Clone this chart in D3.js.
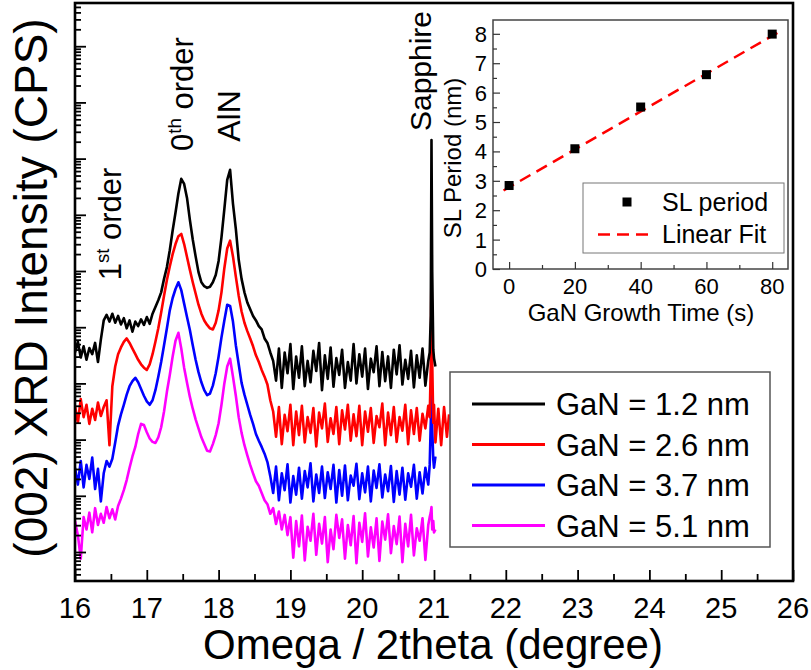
<!DOCTYPE html>
<html><head><meta charset="utf-8">
<script src="https://cdn.jsdelivr.net/npm/d3@7"></script>
<style>
body{margin:0;background:#fff}
svg{display:block}
text{font-family:"Liberation Sans",Arial,Helvetica,sans-serif;fill:#000}
</style>
</head><body>
<svg id="c" width="811" height="670"></svg>
<script>
// ---------- main chart data: Omega/2theta (degree) and log10 intensity (CPS, offset stack) ----------
const twoTheta = [
16.00,16.04,16.08,16.12,16.16,16.20,16.24,16.28,16.32,16.36,
16.40,16.44,16.48,16.52,16.56,16.60,16.64,16.68,16.72,16.76,
16.80,16.84,16.88,16.92,16.96,17.00,17.04,17.08,17.12,17.16,
17.20,17.24,17.28,17.32,17.36,17.40,17.44,17.48,17.52,17.56,
17.60,17.64,17.68,17.72,17.76,17.80,17.84,17.88,17.92,17.96,
18.00,18.04,18.08,18.12,18.16,18.20,18.24,18.28,18.32,18.36,
18.40,18.44,18.48,18.52,18.56,18.60,18.64,18.68,18.72,18.76,
18.80,18.84,18.88,18.92,18.96,19.00,19.04,19.08,19.12,19.16,
19.20,19.24,19.28,19.32,19.36,19.40,19.44,19.48,19.52,19.56,
19.60,19.64,19.68,19.72,19.76,19.80,19.84,19.88,19.92,19.96,
20.00,20.04,20.08,20.12,20.16,20.20,20.24,20.28,20.32,20.36,
20.40,20.44,20.48,20.52,20.56,20.60,20.64,20.68,20.72,20.76,
20.80,20.84,20.88,20.92,
20.94,20.955,20.965,20.975,20.99,21.00,21.02,
21.06,21.10,21.14,21.18,21.21];

const gan12 = [
3.55,3.74,3.46,3.66,3.42,3.63,3.52,3.72,3.38,3.78,
4.12,4.22,4.10,4.24,4.08,4.20,4.05,4.16,3.98,4.12,
3.92,4.10,4.02,4.14,4.04,4.18,4.06,4.24,4.36,4.48,
4.62,4.86,5.07,5.37,5.72,6.04,6.38,6.64,6.55,6.30,
5.91,5.56,5.26,4.98,4.80,4.73,4.70,4.72,4.80,4.93,
5.18,5.60,6.10,6.62,6.80,6.20,5.75,5.20,4.86,4.62,
4.44,4.32,4.20,4.12,4.02,3.96,3.80,3.72,3.55,3.40,
3.05,3.62,2.92,3.55,3.18,3.70,2.90,3.48,3.10,3.66,
2.95,3.40,3.02,3.58,3.22,3.72,2.88,3.50,3.08,3.64,
2.94,3.45,3.15,3.60,2.92,3.38,3.05,3.70,3.00,3.52,
3.12,3.62,2.90,3.44,3.20,3.66,2.95,3.56,3.04,3.48,
2.92,3.60,3.16,3.68,2.98,3.42,3.08,3.58,2.93,3.50,
3.10,3.62,2.96,3.40,
3.55,4.20,7.33,5.00,3.60,3.45,3.30];

const gan26 = [
2.60,2.30,2.72,2.40,2.62,2.28,2.55,2.35,2.66,2.42,
2.58,2.70,1.90,2.95,3.30,3.52,3.64,3.74,3.80,3.72,
3.62,3.52,3.42,3.34,3.28,3.24,3.34,3.52,3.74,3.98,
4.26,4.56,4.84,5.08,5.30,5.48,5.62,5.66,5.48,5.25,
5.02,4.80,4.60,4.40,4.24,4.12,4.04,3.98,3.96,4.08,
4.30,4.62,5.05,5.40,5.54,5.26,4.90,4.56,4.28,4.08,
3.93,3.80,3.66,3.50,3.38,3.24,3.12,2.98,2.70,2.50,
2.05,2.58,1.92,2.44,2.15,2.62,1.90,2.50,2.08,2.60,
1.95,2.40,2.12,2.56,1.88,2.48,2.20,2.64,1.96,2.38,
2.10,2.58,1.92,2.52,2.18,2.62,1.98,2.45,2.06,2.60,
1.90,2.50,2.14,2.56,1.94,2.42,2.22,2.64,1.90,2.48,
2.08,2.58,1.96,2.40,2.16,2.62,1.92,2.52,2.10,2.56,
1.98,2.46,2.20,2.60,
2.40,3.30,5.20,3.40,2.30,2.62,1.95,
2.55,1.90,2.58,2.05,2.45];

const gan37 = [
1.50,1.20,1.62,1.15,1.55,1.30,1.68,1.12,1.48,0.90,
1.40,1.62,1.52,1.66,1.95,2.25,2.45,2.62,2.80,2.95,
3.04,3.10,3.02,2.90,2.78,2.68,2.62,2.70,2.88,3.12,
3.38,3.68,3.98,4.30,4.52,4.68,4.80,4.66,4.42,4.18,
3.95,3.68,3.42,3.20,3.02,2.88,2.79,2.82,2.96,3.18,
3.48,3.82,4.12,4.40,4.38,4.10,3.68,3.34,3.01,2.80,
2.62,2.44,2.28,2.10,1.98,1.87,1.75,1.60,1.35,1.05,
1.52,0.92,1.40,1.10,1.56,0.88,1.35,1.02,1.50,0.95,
1.44,1.15,1.58,0.90,1.38,1.05,1.52,0.96,1.42,1.12,
1.55,0.88,1.46,1.00,1.54,0.92,1.36,1.18,1.57,0.94,
1.40,1.06,1.52,0.90,1.45,1.14,1.56,0.97,1.38,1.08,
1.53,0.89,1.44,1.02,1.50,0.93,1.40,1.16,1.55,0.95,
1.42,1.04,1.50,1.20,
1.55,2.30,2.80,2.20,1.65,1.50,1.70];

const gan51 = [
0.55,0.30,-0.12,0.62,0.40,0.70,0.35,0.78,0.48,0.68,
0.52,0.80,0.60,0.76,0.58,0.82,0.95,1.10,1.28,1.50,
1.70,1.87,2.10,2.28,2.26,2.13,2.02,1.96,1.94,2.04,
2.22,2.50,2.85,3.15,3.48,3.76,3.90,3.62,3.28,3.01,
2.76,2.55,2.36,2.20,2.04,1.92,1.80,1.79,1.92,2.08,
2.29,2.62,3.00,3.30,3.44,3.12,2.78,2.40,2.12,1.90,
1.72,1.55,1.40,1.26,1.18,1.05,0.92,0.85,0.68,0.78,
0.50,0.72,0.40,0.66,0.30,0.62,-0.10,0.55,0.10,0.65,
-0.15,0.45,0.20,0.68,-0.05,0.50,0.15,0.62,-0.18,0.40,
0.05,0.66,0.25,0.58,-0.12,0.48,0.12,0.64,-0.20,0.52,
0.18,0.69,-0.08,0.44,0.08,0.60,-0.16,0.54,0.22,0.67,
-0.02,0.46,0.14,0.63,-0.18,0.50,0.10,0.66,-0.06,0.42,
0.20,0.60,-0.14,0.48,
0.62,0.70,0.80,0.40,0.55,0.35,0.40];

const legendLabels = ["GaN = 1.2 nm","GaN = 2.6 nm","GaN = 3.7 nm","GaN = 5.1 nm"];
const seriesColors = ["#000000","#ff0000","#0000ff","#ff00ff"];
const xTicks = [16,17,18,19,20,21,22,23,24,25,26];
const xMinorTicks = [16.5,17.5,18.5,19.5,20.5,21.5,22.5,23.5,24.5,25.5];
const yDecades = [0,1,2,3,4,5,6,7,8,9];

// ---------- inset data ----------
const growthTime = [0,20,40,60,80];
const slPeriod = [2.84,4.09,5.51,6.61,7.99];
const fitTime = [-1.7,82.9];
const fitPeriod = [2.67,8.12];
const insetXTicks = [0,20,40,60,80];
const insetXMinor = [10,30,50,70];
const insetYTicks = [0,1,2,3,4,5,6,7,8];
const insetYMinor = [0.5,1.5,2.5,3.5,4.5,5.5,6.5,7.5];

// ---------- drawing ----------
const svg = d3.select('#c');
const M = {l:75, r:793, t:3, b:581};
const x = d3.scaleLinear().domain([16,26]).range([M.l, M.r]);
const y = d3.scaleLinear().domain([-0.516, 9.769]).range([M.b, M.t]);

svg.append('defs').append('clipPath').attr('id','clip')
  .append('rect').attr('x',M.l).attr('y',M.t).attr('width',M.r-M.l).attr('height',M.b-M.t);

const curves = [gan12, gan26, gan37, gan51];
const line = d3.line().x((d,i)=>x(twoTheta[i])).y(d=>y(d));
const gCurves = svg.append('g').attr('clip-path','url(#clip)');
[3,2,1,0].forEach(k=>{
  gCurves.append('path').datum(curves[k])
    .attr('d', line).attr('fill','none')
    .attr('stroke', seriesColors[k]).attr('stroke-width',2.6)
    .attr('stroke-linejoin','round');
});

// y minor ticks (log decades)
const yMinor = [];
yDecades.concat([-1]).forEach(k=>{
  for(let m=2;m<=9;m++){ const v=k+Math.log10(m); if(v>y.domain()[0] && v<y.domain()[1]) yMinor.push(v); }
});

const gx = svg.append('g').attr('transform',`translate(0,${M.b})`)
  .call(d3.axisBottom(x).tickValues(xTicks).tickSizeInner(-11).tickSizeOuter(0).tickFormat(''));
const gx2 = svg.append('g').attr('transform',`translate(0,${M.b})`)
  .call(d3.axisBottom(x).tickValues(xMinorTicks).tickSizeInner(-7).tickSizeOuter(0).tickFormat(''));
const gy = svg.append('g').attr('transform',`translate(${M.l},0)`)
  .call(d3.axisLeft(y).tickValues(yDecades).tickSizeInner(-11).tickSizeOuter(0).tickFormat(''));
const gy2 = svg.append('g').attr('transform',`translate(${M.l},0)`)
  .call(d3.axisLeft(y).tickValues(yMinor).tickSizeInner(-6).tickSizeOuter(0).tickFormat(''));
[gx,gx2,gy,gy2].forEach(g=>{ g.select('.domain').remove(); g.selectAll('line').attr('stroke','#000').attr('stroke-width',1.8); });

svg.append('g').selectAll('text').data(xTicks).join('text')
  .attr('x',d=>x(d)).attr('y',618).attr('text-anchor','middle')
  .attr('font-size',29).text(d=>d);

svg.append('rect').attr('x',M.l).attr('y',M.t).attr('width',M.r-M.l).attr('height',M.b-M.t)
  .attr('fill','none').attr('stroke','#000').attr('stroke-width',2.6);

// axis titles
svg.append('text').attr('x',433).attr('y',659).attr('text-anchor','middle')
  .attr('font-size',42).text('Omega / 2theta (degree)');
svg.append('text').attr('transform','translate(47,288) rotate(-90)').attr('text-anchor','middle')
  .attr('font-size',46).text('(002) XRD Intensity (CPS)');

// annotations
function rotLabel(px, py, parts, fs){
  const t = svg.append('text').attr('transform',`translate(${px},${py}) rotate(-90)`)
    .attr('text-anchor','middle').attr('font-size',fs);
  parts.forEach(p=>{
    const s = t.append('tspan').text(p.t);
    if(p.sup){ s.attr('font-size',fs*0.6).attr('dy',-fs*0.38); }
    if(p.down){ s.attr('dy',fs*0.38); }
  });
}
rotLabel(121, 224, [{t:'1'},{t:'st',sup:true},{t:' order',down:true}], 31);
rotLabel(193, 94, [{t:'0'},{t:'th',sup:true},{t:' order',down:true}], 31);
rotLabel(240, 116, [{t:'AlN'}], 32);
rotLabel(431, 71, [{t:'Sapphire'}], 30);

// main legend
const lg = svg.append('g');
lg.append('rect').attr('x',450).attr('y',372).attr('width',320).attr('height',175)
  .attr('fill','#fff').attr('stroke','#555').attr('stroke-width',1.5);
legendLabels.forEach((lab,i)=>{
  const yy = 404 + i*40.5;
  lg.append('line').attr('x1',472).attr('x2',545).attr('y1',yy).attr('y2',yy)
    .attr('stroke',seriesColors[i]).attr('stroke-width',3);
  lg.append('text').attr('x',556).attr('y',yy+11).attr('font-size',31).text(lab);
});

// ---------- inset ----------
const ix = d3.scaleLinear().domain([-4.9,84.8]).range([493,788]);
const iy = d3.scaleLinear().domain([0,8.47]).range([269,20]);
const ins = svg.append('g');
ins.append('rect').attr('x',493).attr('y',20).attr('width',295).attr('height',249)
  .attr('fill','#fff').attr('stroke','#444').attr('stroke-width',1.5);

const ixa = ins.append('g').attr('transform','translate(0,269)')
  .call(d3.axisBottom(ix).tickValues(insetXTicks).tickSizeInner(-7).tickSizeOuter(0).tickFormat(''));
const ixb = ins.append('g').attr('transform','translate(0,269)')
  .call(d3.axisBottom(ix).tickValues(insetXMinor).tickSizeInner(-4).tickSizeOuter(0).tickFormat(''));
const iya = ins.append('g').attr('transform','translate(493,0)')
  .call(d3.axisLeft(iy).tickValues(insetYTicks).tickSizeInner(-7).tickSizeOuter(0).tickFormat(''));
const iyb = ins.append('g').attr('transform','translate(493,0)')
  .call(d3.axisLeft(iy).tickValues(insetYMinor).tickSizeInner(-4).tickSizeOuter(0).tickFormat(''));
[ixa,ixb,iya,iyb].forEach(g=>{ g.select('.domain').remove(); g.selectAll('line').attr('stroke','#333').attr('stroke-width',1.2); });

ins.append('g').selectAll('text').data(insetXTicks).join('text')
  .attr('x',d=>ix(d)).attr('y',294).attr('text-anchor','middle').attr('font-size',22).text(d=>d);
ins.append('g').selectAll('text').data(insetYTicks).join('text')
  .attr('x',487).attr('y',d=>iy(d)+8).attr('text-anchor','end').attr('font-size',22).text(d=>d);

ins.append('text').attr('x',641).attr('y',321).attr('text-anchor','middle').attr('font-size',24)
  .text('GaN Growth Time (s)');
ins.append('text').attr('transform','translate(461,158) rotate(-90)').attr('text-anchor','middle')
  .attr('font-size',24).text('SL Period (nm)');

ins.append('path').datum(fitTime.map((t,i)=>[t,fitPeriod[i]]))
  .attr('d', d3.line().x(d=>ix(d[0])).y(d=>iy(d[1])))
  .attr('stroke','#ff0000').attr('stroke-width',2.5).attr('stroke-dasharray','12,7').attr('fill','none');
ins.append('g').selectAll('rect').data(growthTime).join('rect')
  .attr('x',(d)=>ix(d)-4.5).attr('y',(d,i)=>iy(slPeriod[i])-4.5)
  .attr('width',9).attr('height',9).attr('fill','#000');

// inset legend
ins.append('rect').attr('x',583).attr('y',183).attr('width',201).attr('height',70)
  .attr('fill','#fff').attr('stroke','#777').attr('stroke-width',1);
ins.append('rect').attr('x',622.5).attr('y',197.5).attr('width',9).attr('height',9).attr('fill','#000');
ins.append('text').attr('x',662).attr('y',211).attr('font-size',25).text('SL period');
ins.append('line').attr('x1',598).attr('x2',650).attr('y1',234.5).attr('y2',234.5)
  .attr('stroke','#ff0000').attr('stroke-width',2.5).attr('stroke-dasharray','12,7');
ins.append('text').attr('x',662).attr('y',243).attr('font-size',25).text('Linear Fit');
</script>
</body></html>
